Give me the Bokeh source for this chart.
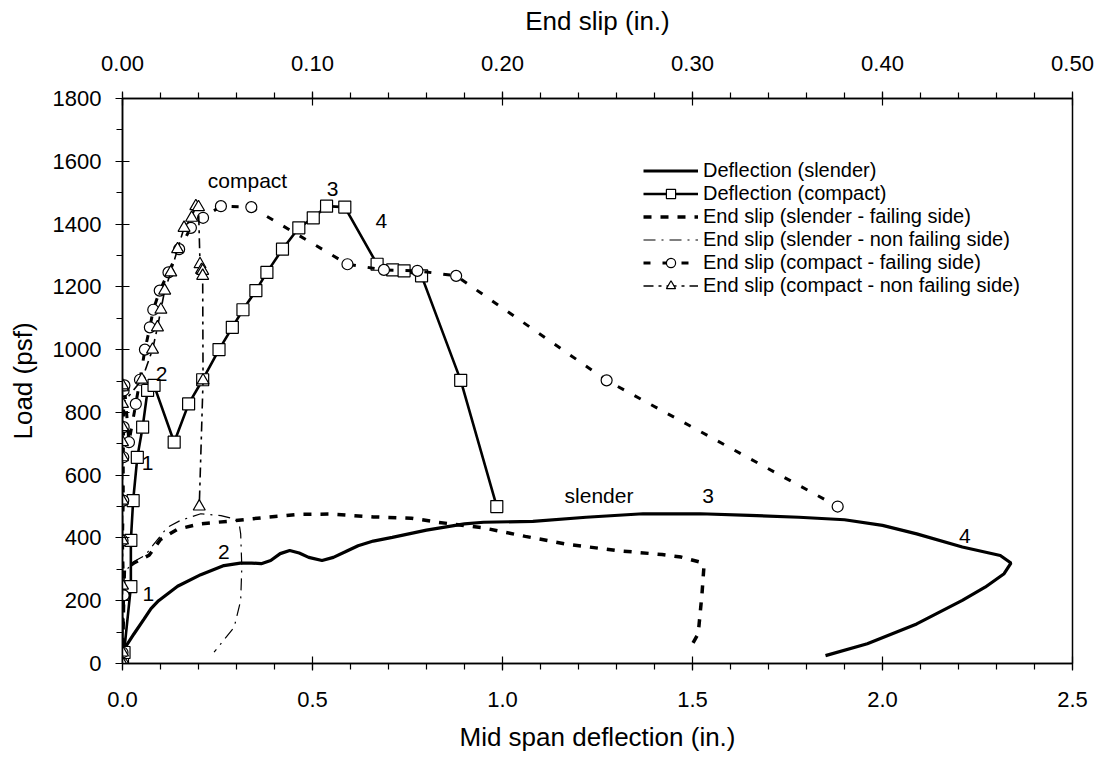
from bokeh.plotting import figure
from bokeh.models import Range1d, LinearAxis, SingleIntervalTicker, Label, PrintfTickFormatter
from bokeh.embed import file_html
from bokeh.resources import INLINE

FONT = "Liberation Sans"

# ---- Deflection (slender): mid-span deflection (in.) vs load (psf)
defl_slender = [0.0, 0.03, 0.057, 0.075, 0.095, 0.145, 0.206, 0.267, 0.31, 0.34, 0.365, 0.39, 0.415,
                0.44, 0.465, 0.49, 0.525, 0.555, 0.585, 0.62, 0.66, 0.71, 0.80, 0.90, 0.95, 1.08,
                1.22, 1.37, 1.52, 1.65, 1.78, 1.90, 2.00, 2.09, 2.21, 2.31, 2.338, 2.32, 2.27,
                2.21, 2.09, 1.96, 1.85]
load_slender = [38, 94, 142, 175, 200, 246, 283, 312, 320, 320, 318, 328, 350,
                360, 352, 338, 328, 338, 355, 375, 390, 402, 425, 445, 450, 453,
                466, 477, 477, 472, 466, 458, 440, 413, 371, 344, 320, 286, 243,
                201, 126, 63, 25]

# ---- Deflection (compact)
defl_compact = [0.0, 0.004, 0.022, 0.022, 0.028, 0.039, 0.053, 0.066, 0.083, 0.136, 0.174, 0.211,
                0.254, 0.289, 0.317, 0.351, 0.380, 0.421, 0.464, 0.502, 0.537, 0.585, 0.670,
                0.711, 0.741, 0.787, 0.890, 0.985]
load_compact = [0, 35, 245, 392, 519, 657, 753, 870, 886, 705, 827, 904,
                1000, 1071, 1127, 1188, 1246, 1320, 1388, 1420, 1457, 1454, 1272,
                1254, 1251, 1235, 902, 500]

# ---- End slip (slender - failing side), end slip (in.)
slip_sf = [0.0, 0.0006, 0.001, 0.006, 0.014, 0.020, 0.029, 0.041, 0.059, 0.076, 0.092, 0.110,
           0.132, 0.152, 0.166, 0.190, 0.212, 0.234, 0.260, 0.284, 0.294, 0.304, 0.306,
           0.305, 0.304, 0.303, 0.298]
load_sf = [0, 200, 300, 320, 345, 395, 428, 445, 455, 466, 475, 476,
           467, 463, 450, 432, 405, 380, 360, 347, 339, 323, 307,
           222, 158, 95, 41]

# ---- End slip (slender - non failing side)
slip_snf = [0.0, 0.0006, 0.001, 0.006, 0.012, 0.0166, 0.0236, 0.0306, 0.0412, 0.0518, 0.0588,
            0.0614, 0.0622, 0.0628, 0.0622, 0.0588, 0.0482]
load_snf = [0, 200, 290, 325, 345, 381, 434, 456, 477, 471, 461,
            445, 413, 307, 201, 116, 36]

# ---- End slip (compact - failing side)
slip_cf = [0.0, 0.0, 0.0006, 0.0, 0.0004, 0.0004, 0.0006, 0.0006, 0.001, 0.0034, 0.007, 0.0092,
           0.0118, 0.0144, 0.0162, 0.0196, 0.0242, 0.0298, 0.036, 0.0424, 0.0518, 0.0678,
           0.1184, 0.1376, 0.1552, 0.1756, 0.2548, 0.3764]
load_cf = [0, 35, 217, 392, 519, 657, 753, 870, 886, 705, 827, 904,
           1000, 1071, 1127, 1188, 1246, 1320, 1388, 1420, 1457, 1454,
           1272, 1254, 1251, 1235, 902, 500]

# ---- End slip (compact - non failing side)
slip_cnf = [0.0, 0.0, 0.0, 0.0, 0.0, 0.0, 0.0, 0.0, 0.0, 0.0, 0.0, 0.0102,
            0.0158, 0.0184, 0.0202, 0.0222, 0.0254, 0.029, 0.0324, 0.0364, 0.0386, 0.040,
            0.0408, 0.0416, 0.0422, 0.0422, 0.0424, 0.0404]
load_cnf = [0, 35, 248, 392, 519, 657, 753, 880, 886, 705, 827, 904,
            1000, 1071, 1127, 1188, 1246, 1320, 1388, 1420, 1457, 1454,
            1272, 1254, 1251, 1235, 902, 500]

# ---- annotations (deflection in., load psf)
annot_text = ["compact", "3", "4", "2", "1", "1", "2", "slender", "3", "4"]
annot_x = [0.329, 0.553, 0.681, 0.103, 0.066, 0.068, 0.267, 1.254, 1.541, 2.217]
annot_y = [1539, 1512, 1411, 921, 638, 220, 355, 535, 535, 405]

p = figure(width=1101, height=757, x_range=Range1d(0, 2.5), y_range=Range1d(0, 1800),
           output_backend="svg", toolbar_location=None,
           min_border_left=122, min_border_right=29, min_border_top=98, min_border_bottom=94)
p.extra_x_ranges = {"slip": Range1d(0, 0.5)}
p.background_fill_color = "white"
p.border_fill_color = "white"
p.xgrid.visible = False
p.ygrid.visible = False
p.outline_line_color = "black"
p.outline_line_width = 1.5
p.outline_line_alpha = 1

bottom = p.below[0]
left = p.left[0]
top = LinearAxis(x_range_name="slip", axis_label="End slip (in.)")
p.add_layout(top, "above")

bottom.axis_label = "Mid span deflection (in.)"
left.axis_label = "Load (psf)"

bottom.ticker = SingleIntervalTicker(interval=0.5, num_minor_ticks=5)
bottom.formatter = PrintfTickFormatter(format="%.1f")
top.ticker = SingleIntervalTicker(interval=0.1, num_minor_ticks=5)
top.formatter = PrintfTickFormatter(format="%.2f")
left.ticker = SingleIntervalTicker(interval=200, num_minor_ticks=2)

for ax in [bottom, top, left]:
    ax.axis_line_color = "black"
    ax.axis_line_width = 1.5
    ax.major_tick_line_color = "black"
    ax.minor_tick_line_color = "black"
    ax.major_tick_line_width = 1.2
    ax.minor_tick_line_width = 1.2
    ax.major_tick_in = 7
    ax.major_tick_out = 7
    ax.minor_tick_in = 0
    ax.minor_tick_out = 6
    ax.major_label_text_font = FONT
    ax.major_label_text_font_size = "22px"
    ax.major_label_text_color = "black"
    ax.axis_label_text_font = FONT
    ax.axis_label_text_font_size = "26px"
    ax.axis_label_text_font_style = "normal"
    ax.axis_label_text_color = "black"
bottom.major_label_standoff = 21
bottom.axis_label_standoff = 12
top.major_label_standoff = 21
top.axis_label_standoff = 17
left.major_label_standoff = 14
left.axis_label_standoff = 12

# series
p.line(defl_slender, load_slender, line_color="black", line_width=3.2,
       legend_label="Deflection (slender)")
p.line(defl_compact, load_compact, line_color="black", line_width=2.6,
       legend_label="Deflection (compact)")
p.scatter(defl_compact, load_compact, marker="square", size=12, fill_color="white",
          line_color="black", line_width=1.2, legend_label="Deflection (compact)")
p.line(slip_sf, load_sf, x_range_name="slip", line_color="black", line_width=3.5,
       line_dash="8 9", legend_label="End slip (slender - failing side)")
p.line(slip_snf, load_snf, x_range_name="slip", line_color="black", line_width=1.2,
       line_dash="12 6 2 6", legend_label="End slip (slender - non failing side)")
p.line(slip_cf, load_cf, x_range_name="slip", line_color="black", line_width=3.0,
       line_dash="7 12", legend_label="End slip (compact - failing side)")
p.scatter(slip_cf, load_cf, x_range_name="slip", marker="circle", size=11, fill_color="white",
          line_color="black", line_width=1.2, legend_label="End slip (compact - failing side)")
p.line(slip_cnf, load_cnf, x_range_name="slip", line_color="black", line_width=1.6,
       line_dash="10 5 3 5", legend_label="End slip (compact - non failing side)")
p.scatter(slip_cnf, load_cnf, x_range_name="slip", marker="triangle", size=12, fill_color="white",
          line_color="black", line_width=1.2, legend_label="End slip (compact - non failing side)")

for t, x, y in zip(annot_text, annot_x, annot_y):
    p.add_layout(Label(x=x, y=y, text=t, text_align="center", text_baseline="middle",
                       text_font=FONT, text_font_size="21px", text_color="black"))

leg = p.legend[0]
leg.location = (521, 366)
leg.border_line_color = None
leg.background_fill_alpha = 0
leg.padding = 0
leg.margin = 0
leg.spacing = 0
leg.glyph_width = 55
leg.glyph_height = 23
leg.label_height = 23
leg.label_standoff = 5
leg.label_text_font = FONT
leg.label_text_font_size = "20px"
leg.label_text_color = "black"

open("out.html", "w").write(file_html(p, INLINE))
